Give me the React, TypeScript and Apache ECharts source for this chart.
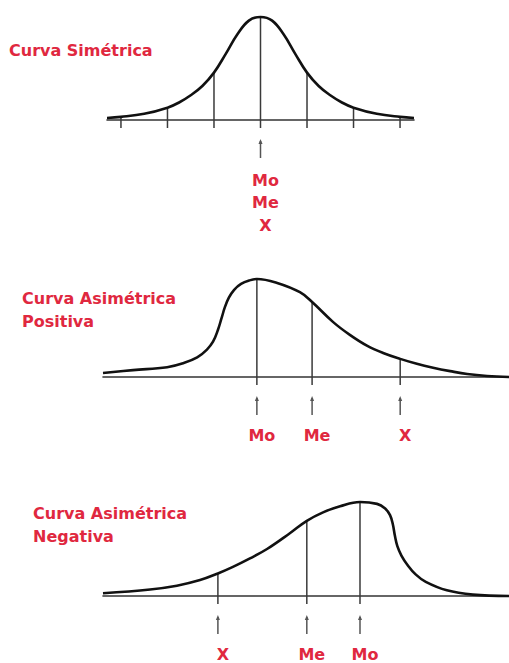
import React, { useEffect, useRef } from "react";
import * as echarts from "echarts";

// Panel 1: symmetric curve (x in standard deviations, y relative frequency)
const symX = [-3.3, -3, -2.5, -2, -1.75, -1.5, -1.25, -1, -0.75, -0.5, -0.25, 0, 0.25, 0.5, 0.75, 1, 1.25, 1.5, 1.75, 2, 2.5, 3, 3.3];
const symY = [0.02, 0.03, 0.06, 0.12, 0.17, 0.24, 0.33, 0.46, 0.64, 0.83, 0.965, 1, 0.965, 0.83, 0.64, 0.46, 0.33, 0.24, 0.17, 0.12, 0.06, 0.03, 0.02];
const symMarkX = [-3, -2, -1, 0, 1, 2, 3];
const symMarkY = [0.03, 0.12, 0.46, 1, 0.46, 0.12, 0.03];
const symMarkLabel = ["", "", "", "Mo\nMe\nX", "", "", ""];

// Panel 2: positive skew
const posX = [0, 7.4, 15.8, 19.7, 23.2, 25.6, 27.1, 28.3, 29.2, 30.0, 31.0, 32.3, 34.0, 36.0, 37.9, 42.9, 48.5, 51.5, 56.7, 60.8, 65.0, 69.0, 73.2, 77.3, 81.3, 85.5, 89.7, 94.6, 100];
const posY = [0.04, 0.07, 0.1, 0.14, 0.2, 0.28, 0.36, 0.48, 0.6, 0.71, 0.81, 0.89, 0.95, 0.985, 1.0, 0.96, 0.865, 0.765, 0.56, 0.43, 0.32, 0.245, 0.185, 0.135, 0.095, 0.06, 0.03, 0.01, 0.0];
const posMarkX = [37.9, 51.5, 73.2];
const posMarkY = [1.0, 0.765, 0.185];
const posMarkLabel = ["Mo", "Me", "X"];

// Panel 3: negative skew
const negX = [0, 11.6, 18.2, 23.9, 28.3, 32.0, 36.2, 40.4, 46.1, 50.2, 54.2, 58.4, 63.3, 67.5, 69.5, 70.7, 71.4, 71.9, 72.5, 73.5, 75.0, 77.0, 79.5, 84.7, 91.1, 100];
const negY = [0.03, 0.07, 0.11, 0.17, 0.24, 0.31, 0.4, 0.5, 0.67, 0.8, 0.89, 0.955, 1.0, 0.98, 0.93, 0.86, 0.76, 0.64, 0.53, 0.43, 0.33, 0.23, 0.15, 0.06, 0.015, 0.0];
const negMarkX = [28.3, 50.2, 63.3];
const negMarkY = [0.24, 0.8, 1.0];
const negMarkLabel = ["X", "Me", "Mo"];

const titles = ["Curva Simétrica", "Curva Asimétrica\nPositiva", "Curva Asimétrica\nNegativa"];

const RED = "#e0283f";
const FONT = "DejaVu Sans";

function makeRender(labels: string[]) {
  return (params: any, api: any) => {
    const x = api.value(0);
    const h = api.value(1);
    const base = api.coord([x, 0]);
    const top = api.coord([x, h]);
    const children: any[] = [
      {
        type: "line",
        shape: { x1: base[0], y1: base[1] + 8, x2: top[0], y2: top[1] },
        style: { stroke: "#3a3a3a", lineWidth: 1.5 },
      },
    ];
    const lab = labels[params.dataIndex];
    if (lab) {
      const multi = lab.indexOf("\n") >= 0;
      children.push({
        type: "line",
        shape: { x1: base[0], y1: base[1] + 38, x2: base[0], y2: base[1] + 21 },
        style: { stroke: "#555", lineWidth: 1.5 },
      });
      children.push({
        type: "polygon",
        shape: {
          points: [
            [base[0] - 2, base[1] + 24],
            [base[0], base[1] + 19],
            [base[0] + 2, base[1] + 24],
          ],
        },
        style: { fill: "#555" },
      });
      children.push({
        type: "text",
        x: base[0] + 5,
        y: multi ? base[1] + 49 : base[1] + 58,
        style: {
          text: lab,
          fill: RED,
          fontSize: 16,
          fontWeight: "bold",
          fontFamily: FONT,
          align: "center",
          verticalAlign: multi ? "top" : "middle",
          lineHeight: multi ? 22.5 : 16,
        },
      });
    }
    return { type: "group", children };
  };
}

export default function App() {
  const ref = useRef<HTMLDivElement>(null);
  useEffect(() => {
    if (!ref.current) return;
    const chart = echarts.init(ref.current, null, { renderer: "svg" });
    const grids = [
      { left: 107, top: 17, width: 307, height: 103 },
      { left: 103, top: 279, width: 406, height: 98 },
      { left: 103, top: 502, width: 406, height: 94 },
    ];
    const ranges = [
      [-3.3, 3.3],
      [0, 100],
      [0, 100],
    ];
    const curves = [
      symX.map((x, i) => [x, symY[i]]),
      posX.map((x, i) => [x, posY[i]]),
      negX.map((x, i) => [x, negY[i]]),
    ];
    const marks = [
      { d: symMarkX.map((x, i) => [x, symMarkY[i]]), l: symMarkLabel },
      { d: posMarkX.map((x, i) => [x, posMarkY[i]]), l: posMarkLabel },
      { d: negMarkX.map((x, i) => [x, negMarkY[i]]), l: negMarkLabel },
    ];
    const series: any[] = [];
    curves.forEach((c, i) => {
      series.push({
        type: "custom",
        xAxisIndex: i,
        yAxisIndex: i,
        renderItem: makeRender(marks[i].l),
        data: marks[i].d,
        z: 1,
      });
      series.push({
        type: "line",
        xAxisIndex: i,
        yAxisIndex: i,
        data: c,
        smooth: 0.4,
        symbol: "none",
        clip: false,
        lineStyle: { color: "#111", width: 2.6 },
        z: 3,
      });
    });
    chart.setOption({
      animation: false,
      backgroundColor: "#ffffff",
      title: [
        { text: titles[0], left: 9, top: 39 },
        { text: titles[1], left: 22, top: 287 },
        { text: titles[2], left: 33, top: 502 },
      ].map((t) => ({
        ...t,
        padding: 0,
        textStyle: {
          color: RED,
          fontSize: 16,
          fontWeight: "bold",
          fontFamily: FONT,
          lineHeight: 23,
        },
      })),
      grid: grids,
      xAxis: ranges.map((r, i) => ({
        type: "value",
        gridIndex: i,
        min: r[0],
        max: r[1],
        axisLine: { show: true, onZero: false, lineStyle: { color: "#333", width: 1.6 } },
        axisTick: { show: false },
        axisLabel: { show: false },
        splitLine: { show: false },
      })),
      yAxis: ranges.map((_, i) => ({
        type: "value",
        gridIndex: i,
        min: 0,
        max: 1,
        show: false,
        splitLine: { show: false },
      })),
      series,
    });
    return () => chart.dispose();
  }, []);
  return (
    <div
      ref={ref}
      style={{ position: "absolute", left: 0, top: 0, width: 509, height: 663, background: "#fff" }}
    />
  );
}
